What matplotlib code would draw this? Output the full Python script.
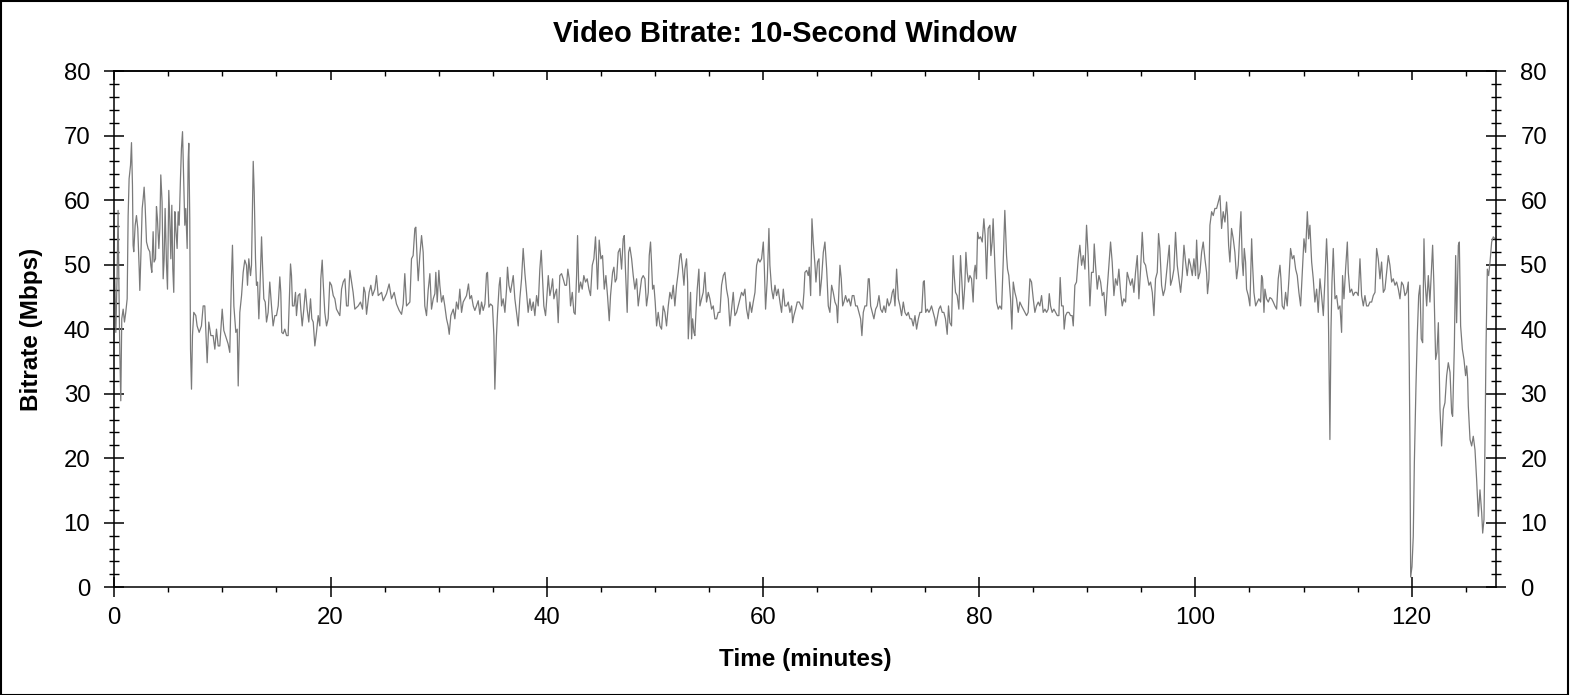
import matplotlib
matplotlib.use('Agg')
import matplotlib.pyplot as plt
import numpy as np
from matplotlib.ticker import MultipleLocator
from matplotlib.patches import Rectangle

plt.rcParams['font.family'] = ['Liberation Sans', 'DejaVu Sans']

# bitrate trace, in five pieces (minutes, Mbps)
t_a = [0.05,0.14,0.26,0.35,0.42,0.51,0.6,0.69,0.82,0.94,
       1.06,1.19,1.28,1.37,1.5,1.59,1.68,1.74,1.8,1.93,
       2.05,2.17,2.3,2.36,2.45,2.58,2.67,2.76,2.85,2.98,
       3.13,3.28,3.38,3.47,3.59,3.68,3.81,3.9,3.99,4.12,
       4.21,4.3,4.42,4.52,4.61,4.7,4.83,4.92,5.04,5.13,
       5.23,5.32,5.41,5.5,5.6,5.69,5.81,5.91,6.0,6.12,
       6.21,6.31,6.43,6.52,6.61,6.74,6.83,6.89,6.98,7.05,
       7.14,7.23,7.35,7.54,7.66,7.85,8.06,8.22,8.37,8.53,
       8.59,8.74,8.93,9.14,9.3,9.45,9.61,9.76,9.98,10.13,
       10.38,10.53,10.68,10.84,10.93,11.06,11.24,11.37,11.46,11.61,
       11.77,11.92,12.07,12.23,12.32,12.44,12.6,12.69,12.85,12.94,
       13.06,13.15,13.25,13.37,13.46,13.62,13.71,13.83,13.96,14.08,
       14.23,14.38,14.54,14.69,14.85,15.0,15.16,15.31,15.4,15.49,
       15.62,15.77,15.93,16.08,16.17,16.3,16.39,16.48,16.63,16.76,
       16.85,17.01,17.16,17.25,17.38,17.53,17.68,17.84,17.99,18.15,
       18.27,18.4,18.55,18.7,18.86,19.01,19.1,19.23,19.32,19.47,
       19.63,19.78,19.93,20.09,20.25,20.4,20.55,20.71,20.86,21.02,
       21.17,21.33,21.48,21.63,21.79]
v_a = [47.8,39.5,48.3,58.4,47.8,36.4,28.9,41.6,43.1,41.1,
       42.6,44.7,57.6,63.3,65.4,68.9,62.3,53.0,52.0,56.1,
       57.6,55.6,49.4,46.0,50.9,58.7,60.2,62.0,59.2,53.5,
       52.5,52.0,49.9,48.8,55.1,50.4,50.9,59.0,57.1,52.5,
       55.6,63.9,59.7,47.8,50.9,58.7,49.9,46.2,61.5,57.1,
       50.9,59.2,49.4,45.7,58.2,55.6,52.5,58.2,56.1,63.3,
       68.0,70.6,62.3,56.1,58.7,52.5,66.0,68.8,57.1,36.9,
       30.7,39.0,42.6,42.1,40.5,39.5,40.5,43.6,43.6,37.4,
       34.8,41.1,39.0,39.0,36.9,40.0,37.4,37.4,43.1,39.8,
       38.5,37.7,36.4,48.3,53.0,43.6,39.5,40.0,31.2,42.6,
       45.2,48.8,50.7,49.9,46.8,50.9,48.3,49.9,66.0,61.3,
       50.9,46.8,47.3,41.6,45.7,54.3,49.9,44.7,44.2,41.1,
       42.6,47.3,43.6,40.5,42.1,42.1,43.6,48.1,45.7,39.5,
       39.3,40.0,39.0,39.0,43.6,50.1,48.3,43.6,43.6,45.7,
       42.1,45.2,45.5,43.1,40.5,43.1,46.2,43.1,41.1,44.7,
       41.6,41.1,37.4,39.5,42.1,40.5,47.8,50.7,47.3,42.6,
       40.5,41.6,47.3,46.8,45.2,44.7,43.1,42.6,42.1,46.2,
       47.3,47.8,43.6,43.6,49.1]

t_b = [22.09,22.25,22.56,22.77,22.96,23.08,23.2,23.33,23.57,23.73,
       23.88,24.1,24.25,24.41,24.72,24.87,25.18,25.42,25.64,25.89,
       26.1,26.35,26.57,26.72,26.87,27.03,27.18,27.34,27.49,27.64,
       27.8,27.89,28.01,28.11,28.26,28.42,28.57,28.72,28.88,29.03,
       29.19,29.34,29.5,29.65,29.74,29.87,30.02,30.11,30.27,30.42,
       30.57,30.73,30.88,30.98,31.13,31.35,31.5,31.65,31.81,31.96,
       32.12,32.27,32.43,32.58,32.76,32.89,33.04,33.2,33.35,33.5,
       33.66,33.81,33.97,34.12,34.28,34.43,34.52,34.65,34.8,34.98,
       35.11,35.2,35.35,35.45,35.6,35.69,35.82,35.97,36.13,36.28,
       36.37,36.5,36.65,36.8,36.9,37.05,37.2,37.36,37.51,37.67,
       37.82,37.98,38.13,38.28,38.44,38.59,38.75,38.9,39.06,39.21,
       39.36,39.49,39.61,39.73,39.89,39.98,40.14,40.29,40.44,40.54,
       40.66,40.81,40.91,41.06,41.21,41.37,41.52,41.68,41.83,41.95,
       42.08,42.2,42.36,42.51,42.63,42.76,42.85,42.97,43.13,43.28,
       43.43,43.59,43.74,43.9,44.05,44.21,44.36,44.51,44.61,44.7,
       44.85,45.01,45.16,45.32,45.47,45.62,45.78,45.9,46.09,46.21,
       46.33,46.46,46.61,46.77,46.92,47.07,47.17,47.29,47.44,47.57,
       47.69,47.85,48.0,48.15,48.31,48.46]
v_b = [45.7,43.1,43.6,44.2,43.1,46.5,45.7,42.3,45.7,46.8,
       45.2,46.2,48.3,45.2,45.7,44.4,45.5,47.0,44.7,45.7,
       43.9,42.9,42.3,43.9,48.6,43.6,43.9,44.2,50.9,51.4,
       55.6,55.8,50.9,47.5,51.4,54.5,51.9,43.6,42.1,46.0,
       48.6,43.1,44.7,45.5,48.8,44.2,49.1,46.8,44.2,45.2,
       43.6,41.6,40.5,39.2,42.1,43.1,41.6,44.2,43.1,46.2,
       42.6,44.2,44.7,45.2,47.0,44.7,45.2,43.6,42.9,43.6,
       44.4,42.3,44.2,42.9,43.9,48.6,48.8,43.4,43.9,43.6,
       39.0,30.7,39.0,42.6,46.8,48.0,43.6,44.7,42.6,46.2,
       49.6,46.8,45.7,47.3,48.3,44.7,42.6,40.5,44.7,47.8,
       52.5,48.6,45.7,42.6,44.7,42.9,44.2,42.1,45.2,43.6,
       49.3,52.2,47.8,43.6,42.1,44.2,48.3,45.2,46.5,47.8,
       44.7,45.7,46.2,41.0,48.3,48.6,47.8,46.8,46.8,49.3,
       47.8,43.6,45.7,42.6,42.3,48.3,54.5,45.7,47.3,46.2,
       48.3,47.3,47.8,46.2,45.2,49.9,50.9,54.3,50.4,46.2,
       53.8,50.9,51.4,46.2,48.3,45.2,41.3,45.2,48.8,49.6,
       47.3,47.8,51.9,52.5,49.3,54.0,54.5,48.8,42.6,51.9,
       52.7,50.9,48.3,46.2,47.8,43.6]

t_c = [48.62,48.77,48.92,49.08,49.23,49.39,49.48,49.6,49.69,49.79,
       49.91,50.03,50.16,50.31,50.47,50.62,50.77,50.93,51.08,51.24,
       51.39,51.55,51.7,51.85,52.01,52.16,52.32,52.41,52.53,52.69,
       52.78,52.93,53.03,53.09,53.18,53.3,53.4,53.49,53.61,53.7,
       53.8,53.92,54.07,54.17,54.32,54.47,54.63,54.78,54.94,55.09,
       55.25,55.4,55.55,55.71,55.86,56.02,56.17,56.33,56.48,56.63,
       56.79,56.94,57.1,57.25,57.4,57.56,57.71,57.87,58.02,58.18,
       58.33,58.48,58.64,58.79,58.95,59.1,59.26,59.41,59.56,59.72,
       59.87,60.03,60.12,60.24,60.4,60.55,60.64,60.8,60.95,61.11,
       61.26,61.41,61.57,61.72,61.88,62.03,62.18,62.34,62.49,62.65,
       62.74,62.86,63.02,63.17,63.36,63.51,63.67,63.79,63.88,64.04,
       64.19,64.28,64.41,64.53,64.65,64.81,64.9,65.05,65.18,65.27,
       65.42,65.58,65.73,65.89,66.04,66.19,66.35,66.5,66.66,66.81,
       66.9,67.03,67.12,67.24,67.37,67.49,67.64,67.8,67.95,68.11,
       68.26,68.41,68.57,68.72,68.88,69.03,69.15,69.28,69.43,69.59,
       69.74,69.83,69.96,70.11,70.26,70.42,70.57,70.73,70.88,71.04,
       71.19,71.34,71.5,71.65,71.81,71.96,72.08,72.21,72.36,72.52,
       72.67,72.82,72.98,73.13,73.29,73.44,73.6,73.75,73.9,74.06,
       74.21,74.37,74.52,74.68,74.83,74.92,75.05,75.2,75.35]
v_c = [45.7,47.8,48.3,47.8,43.6,45.7,51.4,53.5,50.4,46.2,
       46.8,44.2,40.5,42.6,40.5,40.0,43.6,42.6,40.5,43.6,
       45.7,44.7,46.8,43.6,46.8,48.8,51.4,51.7,49.9,46.8,
       49.3,50.9,47.3,38.5,41.6,45.7,38.5,41.6,39.5,39.0,
       42.6,46.2,49.3,43.6,44.7,45.7,48.8,44.2,45.7,44.7,
       43.1,43.6,41.6,41.6,42.6,42.6,46.8,48.3,48.8,46.2,
       44.7,40.5,43.1,45.7,42.1,42.6,43.6,44.7,45.7,45.2,
       46.2,43.1,41.6,44.2,42.6,44.2,45.7,49.9,50.9,50.4,
       50.9,53.5,49.9,43.1,47.8,55.6,49.9,46.2,44.7,46.8,
       45.2,46.2,44.2,42.6,46.2,43.6,43.6,44.2,42.6,43.6,
       41.0,42.1,43.1,44.2,44.2,43.6,43.1,45.7,48.8,49.1,
       48.3,49.6,45.2,57.1,53.5,49.9,47.3,50.4,50.9,45.2,
       47.8,51.9,53.5,49.3,43.6,42.6,46.8,45.7,44.2,43.6,
       41.0,46.2,49.9,47.8,43.6,44.2,45.2,44.2,44.7,43.6,
       45.2,45.2,43.6,43.6,42.6,41.6,39.0,42.6,43.6,43.6,
       47.8,47.8,43.6,42.6,41.6,43.1,43.6,45.2,43.1,42.6,
       43.6,42.6,44.7,43.6,44.2,45.7,46.2,43.6,49.3,44.7,
       43.6,42.1,44.2,42.6,42.1,42.6,41.6,41.6,40.5,42.1,
       40.0,41.6,42.6,42.6,47.3,47.5,42.6,43.1,42.6]

t_d = [75.44,75.59,75.74,75.9,75.99,76.11,76.27,76.42,76.58,76.73,
       76.88,77.04,77.16,77.29,77.44,77.59,77.69,77.81,77.96,78.12,
       78.27,78.4,78.52,78.67,78.77,78.89,79.01,79.14,79.29,79.44,
       79.54,79.63,79.75,79.85,79.97,80.12,80.28,80.43,80.55,80.68,
       80.83,80.99,81.08,81.2,81.29,81.45,81.6,81.76,81.91,82.07,
       82.22,82.37,82.53,82.62,82.74,82.9,83.02,83.15,83.3,83.45,
       83.61,83.76,83.92,84.07,84.22,84.38,84.53,84.69,84.84,85.0,
       85.15,85.3,85.46,85.61,85.77,85.92,86.08,86.23,86.38,86.48,
       86.6,86.75,86.91,87.06,87.22,87.37,87.49,87.62,87.77,87.86,
       87.99,88.14,88.3,88.45,88.6,88.7,88.85,89.0,89.16,89.31,
       89.47,89.62,89.78,89.93,90.08,90.24,90.39,90.55,90.64,90.76,
       90.92,91.07,91.23,91.38,91.53,91.69,91.84,92.0,92.15,92.3,
       92.46,92.61,92.77,92.92,93.08,93.23,93.38,93.54,93.69,93.85,
       94.0,94.16,94.31,94.46,94.62,94.77,94.93,95.08,95.23,95.39,
       95.54,95.7,95.85,96.01,96.16,96.31,96.47,96.59,96.71,96.87,
       97.02,97.18,97.33,97.49,97.58,97.7,97.86,98.01,98.16,98.32,
       98.47,98.63,98.78,98.94,99.09,99.24,99.4,99.55,99.71,99.86,
       100.01,100.11,100.26,100.42,100.57,100.72,100.88,101.03,101.12,101.25,
       101.34,101.5,101.65,101.8,101.96,102.11,102.27]
v_d = [42.9,43.6,42.6,41.6,40.5,41.6,43.1,43.6,42.6,42.6,
       41.6,39.2,43.6,41.0,40.5,51.4,48.3,45.7,45.2,43.1,
       51.4,47.3,43.1,46.8,51.9,48.8,47.3,48.3,47.8,44.2,
       48.8,49.9,47.8,55.0,54.0,54.3,53.5,57.1,54.5,47.8,
       55.6,56.1,51.4,53.5,57.1,49.9,44.2,43.1,43.6,43.1,
       50.4,58.4,51.4,49.3,48.3,44.7,40.0,47.3,45.7,44.7,
       42.6,44.2,43.6,43.1,42.6,42.1,42.6,47.8,47.3,44.7,
       42.6,43.6,44.2,43.6,45.2,42.6,43.1,42.6,43.1,45.5,
       43.6,42.6,43.1,42.6,42.1,42.1,48.0,43.6,43.6,40.0,
       42.1,42.6,42.6,42.1,42.1,40.5,46.8,47.3,50.9,53.0,
       49.9,51.4,49.3,56.1,51.4,43.6,48.8,48.8,53.2,49.9,
       46.2,48.3,47.3,45.2,45.7,42.1,46.2,49.9,53.5,50.4,
       45.2,47.8,46.8,49.3,45.7,43.6,44.7,44.2,48.8,47.8,
       46.8,47.8,45.7,48.8,51.4,44.7,49.3,55.0,50.4,49.9,
       48.3,46.8,47.3,45.7,42.1,47.8,48.8,54.8,52.5,46.8,
       45.2,46.2,48.8,51.4,53.0,46.8,47.8,49.3,55.0,49.9,
       47.8,45.7,48.3,53.0,50.4,48.3,50.9,49.9,48.3,50.9,
       48.3,53.8,47.8,48.8,51.9,53.5,50.9,48.8,45.5,47.8,
       56.1,58.2,57.6,58.7,58.7,59.7,60.7]

t_e = [102.42,102.57,102.73,102.88,102.97,103.07,103.19,103.34,103.5,103.65,
       103.81,103.96,104.12,104.21,104.33,104.42,104.52,104.64,104.73,104.89,
       105.04,105.2,105.29,105.41,105.57,105.72,105.87,106.03,106.12,106.21,
       106.34,106.43,106.58,106.74,106.89,107.05,107.2,107.35,107.51,107.66,
       107.82,107.91,108.03,108.19,108.34,108.49,108.65,108.8,108.96,109.11,
       109.27,109.42,109.57,109.73,109.88,110.04,110.19,110.35,110.47,110.59,
       110.75,110.9,111.05,111.21,111.36,111.52,111.67,111.83,111.98,112.13,
       112.23,112.32,112.44,112.54,112.63,112.75,112.91,113.06,113.21,113.37,
       113.52,113.61,113.74,113.89,114.05,114.14,114.29,114.45,114.6,114.76,
       114.91,115.06,115.22,115.37,115.53,115.68,115.83,115.99,116.14,116.3,
       116.45,116.61,116.76,116.91,117.07,117.22,117.38,117.53,117.69,117.84,
       117.99,118.15,118.3,118.46,118.61,118.77,118.92,119.07,119.23,119.38,
       119.54,119.69,119.78,119.84,119.91,120.03,120.15,120.25,120.4,120.52,
       120.65,120.77,120.89,121.02,121.14,121.23,121.39,121.54,121.69,121.79,
       121.94,122.06,122.22,122.34,122.47,122.62,122.77,122.93,123.08,123.24,
       123.39,123.55,123.7,123.79,123.95,124.07,124.16,124.32,124.41,124.53,
       124.69,124.84,124.99,125.09,125.18,125.24,125.4,125.55,125.7,125.86,
       126.01,126.17,126.32,126.48,126.57,126.69,126.78,126.88,127.0,127.12,
       127.25,127.4,127.55,127.71]
v_e = [55.6,58.2,56.6,59.7,57.6,53.0,50.4,55.6,54.0,51.9,
       47.8,49.9,55.6,58.2,50.4,48.3,52.5,50.4,46.2,45.2,
       43.6,54.0,49.9,45.7,43.6,44.2,44.7,44.2,48.3,47.8,
       42.6,46.2,44.7,44.2,44.9,44.7,44.2,43.6,43.1,47.8,
       49.9,47.8,43.6,43.1,45.7,43.6,47.8,52.5,50.9,51.4,
       49.3,48.3,45.7,43.6,48.8,54.0,51.9,58.2,54.0,56.1,
       50.4,47.8,44.2,46.2,42.6,47.8,45.2,42.1,47.8,54.0,
       49.9,39.5,22.9,40.0,47.3,52.5,44.7,45.2,43.1,43.6,
       39.5,48.3,44.7,49.3,53.5,48.8,45.7,46.2,45.2,45.7,
       45.7,45.2,50.9,45.2,43.6,45.2,43.6,43.6,44.2,44.2,
       45.2,45.7,52.5,50.9,47.8,50.4,45.7,46.2,48.8,51.4,
       49.9,47.3,47.8,46.8,47.3,46.2,44.7,47.3,46.8,45.2,
       45.7,47.3,34.3,22.9,1.6,3.2,7.9,19.3,31.2,39.0,
       45.2,46.8,38.5,37.9,54.0,47.8,43.6,48.3,44.2,47.8,
       53.0,46.8,35.3,36.4,41.0,27.6,21.9,27.6,28.6,32.8,
       34.8,33.3,27.0,26.5,37.4,51.4,41.0,53.0,53.5,40.5,
       36.9,35.3,32.8,34.3,32.2,28.1,22.9,21.9,23.4,21.3,
       16.7,11.0,15.1,11.5,8.4,10.5,21.9,37.4,49.3,48.3,
       50.4,53.5,54.3,54.0]

t_min = np.concatenate([t_a, t_b, t_c, t_d, t_e])
mbps = np.concatenate([v_a, v_b, v_c, v_d, v_e])

W, H = 1570, 695
fig = plt.figure(figsize=(W / 100, H / 100), dpi=100)
ax = fig.add_axes([114.3 / W, (H - 587.3) / H, 1382 / W, 516.3 / H])

ax.plot(t_min, mbps, color='#7a7a7a', lw=0.9)

ax.set_xlim(0, 127.83)
ax.set_ylim(0, 80)
ax.xaxis.set_major_locator(MultipleLocator(20))
ax.xaxis.set_minor_locator(MultipleLocator(5))
ax.yaxis.set_major_locator(MultipleLocator(10))
ax.yaxis.set_minor_locator(MultipleLocator(2))

for s in ax.spines.values():
    s.set_linewidth(1.1)

ax.tick_params(axis='y', which='both', left=True, right=True,
               labelleft=True, labelright=True, direction='inout')
ax.tick_params(axis='y', which='major', length=13.7, width=1.1, pad=10.4, labelsize=17.3)
ax.tick_params(axis='y', which='minor', length=6.5, width=1.0)
ax.tick_params(axis='x', which='major', bottom=True, top=False, direction='inout',
               length=13.7, width=1.1, pad=7, labelsize=17.3)
ax.tick_params(axis='x', which='minor', bottom=True, top=False, direction='out',
               length=3.3, width=1.0)

# top axis: ticks point inward only
top = ax.secondary_xaxis('top')
top.xaxis.set_major_locator(MultipleLocator(20))
top.xaxis.set_minor_locator(MultipleLocator(5))
top.tick_params(which='major', direction='in', length=6.8, width=1.1, labeltop=False)
top.tick_params(which='minor', direction='in', length=3.3, width=1.0)
top.spines['top'].set_linewidth(1.1)

ax.set_xlabel('Time (minutes)', fontsize=17.5, fontweight='bold', va='center')
ax.xaxis.set_label_coords(0.5, -0.139)
ax.set_ylabel('Bitrate (Mbps)', fontsize=17.5, fontweight='bold', va='center')
ax.yaxis.set_label_coords(-0.0596, 0.5)

fig.text(0.5, 1 - 34 / H, 'Video Bitrate: 10-Second Window',
         ha='center', va='center', fontsize=21, fontweight='bold')

fig.patches.append(Rectangle((0.5 / W, 0.5 / H), 1567 / W, 693.5 / H,
                             transform=fig.transFigure, fill=False,
                             edgecolor='black', lw=1.5))

fig.savefig('out.png', dpi=100)
